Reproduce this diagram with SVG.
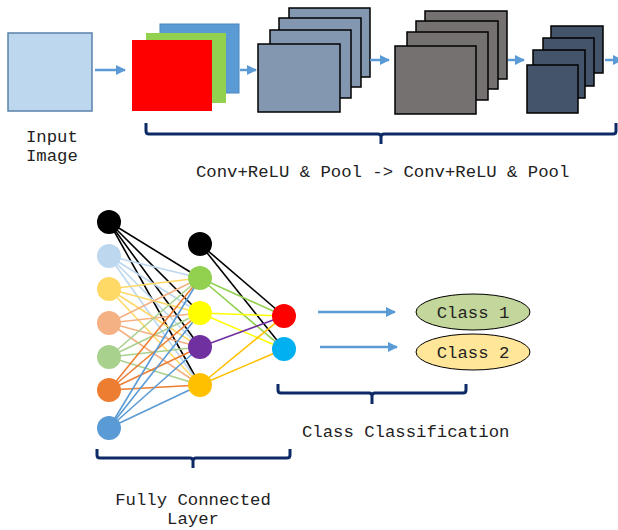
<svg xmlns="http://www.w3.org/2000/svg" width="618" height="530" viewBox="0 0 618 530">
  <defs>
    <marker id="head" viewBox="0 0 10 10" refX="9" refY="5" markerWidth="4" markerHeight="4" orient="auto" markerUnits="strokeWidth">
      <path d="M0,0 L10,5 L0,10 z" fill="#5B9BD5"/>
    </marker>
    <style>
      .lbl { font-family: "Liberation Mono", "Courier New", monospace; font-size: 17.3px; fill: #222; }
      .flow { stroke: #5B9BD5; stroke-width: 2.5; fill: none; marker-end: url(#head); }
      .brace { stroke: #0D2A66; stroke-width: 3; fill: none; stroke-linejoin: round; stroke-linecap: butt; }
      .fm1 { fill: #8497B0; stroke: #000; stroke-width: 1.5; }
      .fm2 { fill: #767171; stroke: #000; stroke-width: 1.5; }
      .fm3 { fill: #44546A; stroke: #000; stroke-width: 1.5; }
      .e { stroke-width: 1.6; fill: none; }
    </style>
  </defs>

  <!-- input image -->
  <g id="input">
    <rect x="8" y="33" width="84" height="78" fill="#BDD7EE" stroke="#5A82AA" stroke-width="1.5"/>
    <text class="lbl" x="26" y="142">Input</text>
    <text class="lbl" x="26" y="161">Image</text>
  </g>

  <!-- RGB channels -->
  <g id="rgb">
    <rect x="160" y="24" width="79" height="69" fill="#5B9BD5" stroke="#4A86BE" stroke-width="1"/>
    <rect x="146" y="33" width="80" height="70" fill="#92D050"/>
    <rect x="132" y="40" width="80" height="71" fill="#FF0000"/>
  </g>

  <!-- feature maps 1 -->
  <g id="maps1">
    <rect class="fm1" x="289" y="8" width="81" height="69"/>
    <rect class="fm1" x="279" y="18" width="82" height="69"/>
    <rect class="fm1" x="270" y="30" width="81" height="68"/>
    <rect class="fm1" x="258" y="44" width="82" height="68"/>
  </g>

  <!-- feature maps 2 -->
  <g id="maps2">
    <rect class="fm2" x="425" y="11" width="82" height="68"/>
    <rect class="fm2" x="416" y="21" width="82" height="68"/>
    <rect class="fm2" x="407" y="32" width="81" height="68"/>
    <rect class="fm2" x="395" y="46" width="81" height="68"/>
  </g>

  <!-- feature maps 3 -->
  <g id="maps3">
    <rect class="fm3" x="551" y="26" width="52" height="47"/>
    <rect class="fm3" x="543" y="38" width="51" height="48"/>
    <rect class="fm3" x="533" y="50" width="52" height="48"/>
    <rect class="fm3" x="527" y="65" width="51" height="48"/>
  </g>

  <!-- pipeline arrows -->
  <g id="connectors">
    <line class="flow" x1="95" y1="70" x2="125" y2="70"/>
    <line class="flow" x1="240" y1="70" x2="256" y2="70"/>
    <line class="flow" x1="370" y1="60" x2="389" y2="60"/>
    <line class="flow" x1="508" y1="60" x2="524" y2="60"/>
    <line class="flow" x1="605" y1="60" x2="622" y2="60"/>
    <line class="flow" x1="318" y1="312" x2="395" y2="312"/>
    <line class="flow" x1="320" y1="347" x2="397" y2="347"/>
  </g>

  <!-- conv brace -->
  <g id="convBrace">
    <path class="brace" d="M146,123 V131 Q146,134 149,134 H378 Q381,134 381,137 V144 M381,137 Q381,134 384,134 H613 Q616,134 616,131 V123"/>
    <text class="lbl" x="196" y="177">Conv+ReLU &amp; Pool -&gt; Conv+ReLU &amp; Pool</text>
  </g>

  <!-- fully connected network edges -->
  <g id="edges">
    <!-- input layer to hidden layer -->
    <g stroke="#000000" class="e">
      <line x1="109" y1="222" x2="200" y2="278"/><line x1="109" y1="222" x2="200" y2="313"/>
      <line x1="109" y1="222" x2="200" y2="347"/><line x1="109" y1="222" x2="200" y2="385"/>
    </g>
    <g stroke="#BDD7EE" class="e">
      <line x1="109" y1="256" x2="200" y2="278"/><line x1="109" y1="256" x2="200" y2="313"/>
      <line x1="109" y1="256" x2="200" y2="347"/><line x1="109" y1="256" x2="200" y2="385"/>
    </g>
    <g stroke="#FFD966" class="e">
      <line x1="109" y1="289" x2="200" y2="278"/><line x1="109" y1="289" x2="200" y2="313"/>
      <line x1="109" y1="289" x2="200" y2="347"/><line x1="109" y1="289" x2="200" y2="385"/>
    </g>
    <g stroke="#F4B183" class="e">
      <line x1="109" y1="323" x2="200" y2="278"/><line x1="109" y1="323" x2="200" y2="313"/>
      <line x1="109" y1="323" x2="200" y2="347"/><line x1="109" y1="323" x2="200" y2="385"/>
    </g>
    <g stroke="#A9D18E" class="e">
      <line x1="109" y1="357" x2="200" y2="278"/><line x1="109" y1="357" x2="200" y2="313"/>
      <line x1="109" y1="357" x2="200" y2="347"/><line x1="109" y1="357" x2="200" y2="385"/>
    </g>
    <g stroke="#ED7D31" class="e">
      <line x1="109" y1="390" x2="200" y2="278"/><line x1="109" y1="390" x2="200" y2="313"/>
      <line x1="109" y1="390" x2="200" y2="347"/><line x1="109" y1="390" x2="200" y2="385"/>
    </g>
    <g stroke="#5B9BD5" class="e">
      <line x1="109" y1="428" x2="200" y2="278"/><line x1="109" y1="428" x2="200" y2="313"/>
      <line x1="109" y1="428" x2="200" y2="347"/><line x1="109" y1="428" x2="200" y2="385"/>
    </g>
    <!-- hidden layer to output layer -->
    <line class="e" stroke="#000000" x1="200" y1="244" x2="284" y2="316"/>
    <line class="e" stroke="#000000" x1="200" y1="244" x2="284" y2="349"/>
    <line class="e" stroke="#92D050" x1="200" y1="278" x2="284" y2="316"/>
    <line class="e" stroke="#92D050" x1="200" y1="278" x2="284" y2="349"/>
    <line class="e" stroke="#FFFF00" x1="200" y1="313" x2="284" y2="316"/>
    <line class="e" stroke="#FFFF00" x1="200" y1="313" x2="284" y2="349"/>
    <line class="e" stroke="#7030A0" x1="200" y1="347" x2="284" y2="316"/>
    <line class="e" stroke="#FFC000" x1="200" y1="385" x2="284" y2="316"/>
    <line class="e" stroke="#FFC000" x1="200" y1="385" x2="284" y2="349"/>
  </g>

  <!-- input layer neurons -->
  <g id="layer1">
    <circle cx="109" cy="222" r="12" fill="#000000"/>
    <circle cx="109" cy="256" r="12" fill="#BDD7EE"/>
    <circle cx="109" cy="289" r="12" fill="#FFD966"/>
    <circle cx="109" cy="323" r="12" fill="#F4B183"/>
    <circle cx="109" cy="357" r="12" fill="#A9D18E"/>
    <circle cx="109" cy="390" r="12" fill="#ED7D31"/>
    <circle cx="109" cy="428" r="12" fill="#5B9BD5"/>
  </g>

  <!-- hidden layer neurons -->
  <g id="layer2">
    <circle cx="200" cy="244" r="12" fill="#000000"/>
    <circle cx="200" cy="278" r="12" fill="#92D050"/>
    <circle cx="200" cy="313" r="12" fill="#FFFF00"/>
    <circle cx="200" cy="347" r="12" fill="#7030A0"/>
    <circle cx="200" cy="385" r="12" fill="#FFC000"/>
  </g>

  <!-- output layer neurons -->
  <g id="layer3">
    <circle cx="284" cy="316" r="12" fill="#FF0000"/>
    <circle cx="284" cy="349" r="12" fill="#00B0F0"/>
  </g>

  <!-- class labels -->
  <g id="class1">
    <ellipse cx="473" cy="312" rx="57" ry="18" fill="#C3D69B" stroke="#000" stroke-width="1"/>
    <text class="lbl" x="473" y="318" text-anchor="middle">Class 1</text>
  </g>
  <g id="class2">
    <ellipse cx="473" cy="352" rx="57" ry="18" fill="#FFE699" stroke="#000" stroke-width="1"/>
    <text class="lbl" x="473" y="358" text-anchor="middle">Class 2</text>
  </g>

  <!-- classification brace -->
  <g id="classBrace">
    <path class="brace" d="M278,384 V390 Q278,393 281,393 H369 Q372,393 372,396 V404 M372,396 Q372,393 375,393 H463 Q466,393 466,390 V384"/>
    <text class="lbl" x="302" y="437">Class Classification</text>
  </g>

  <!-- fully connected brace -->
  <g id="fcBrace">
    <path class="brace" d="M97,449 V455 Q97,458 100,458 H190 Q193,458 193,461 V468 M193,461 Q193,458 196,458 H287 Q290,458 290,455 V449"/>
    <text class="lbl" x="193" y="505" text-anchor="middle">Fully Connected</text>
    <text class="lbl" x="193" y="524" text-anchor="middle">Layer</text>
  </g>
</svg>
